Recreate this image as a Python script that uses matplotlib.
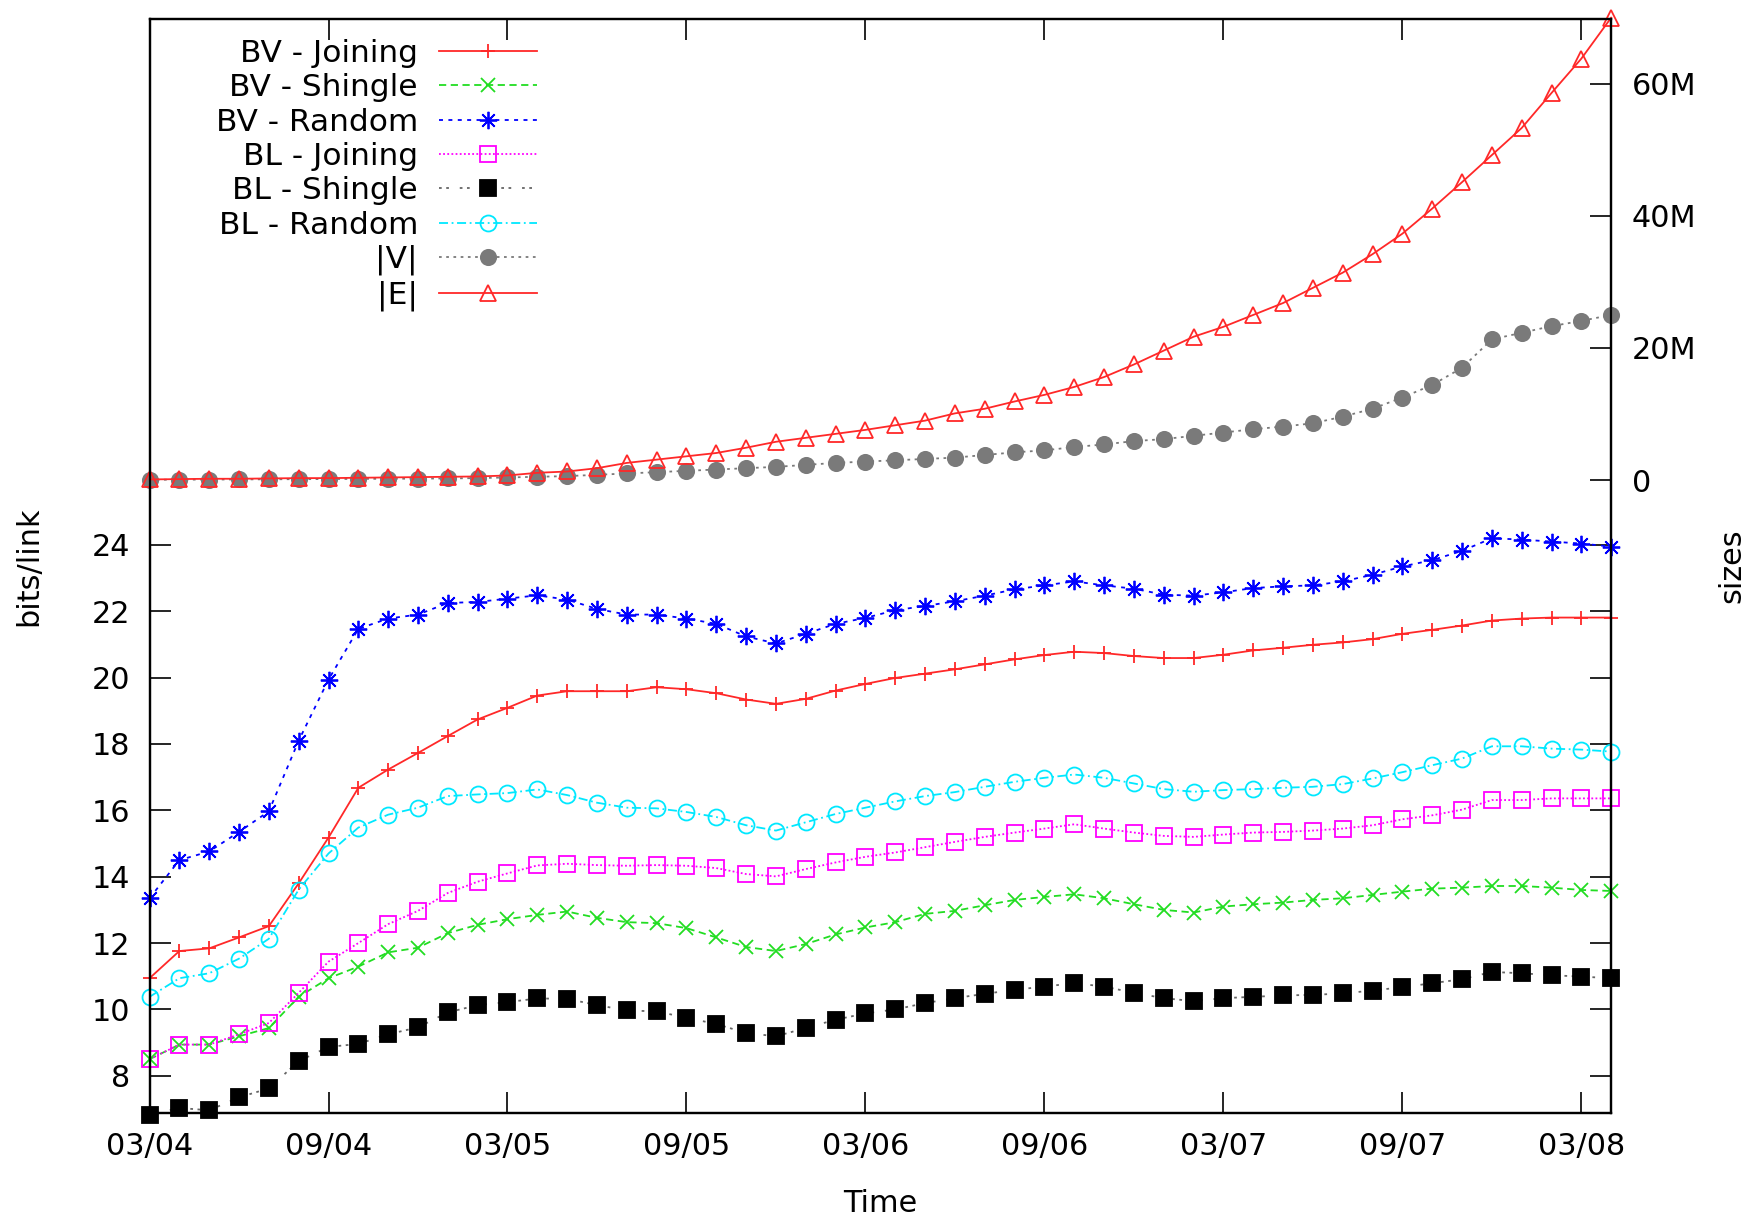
import matplotlib
matplotlib.use("Agg")
import matplotlib.pyplot as plt

plt.rcParams['font.family'] = ['DejaVu Sans']

# Monthly samples, 03/04 .. 04/08
months = list(range(50))
tick_months = [0, 6, 12, 18, 24, 30, 36, 42, 48]
tick_labels = ['03/04', '09/04', '03/05', '09/05', '03/06', '09/06', '03/07', '09/07', '03/08']

# bits per link
bv_joining = [10.94, 11.76, 11.84, 12.17, 12.51, 13.8, 15.18, 16.68, 17.23, 17.73, 18.24, 18.74, 19.09, 19.46,
              19.59, 19.59, 19.59, 19.71, 19.65, 19.53, 19.34, 19.21, 19.36, 19.61, 19.81, 19.99, 20.12, 20.25,
              20.4, 20.55, 20.68, 20.78, 20.74, 20.65, 20.59, 20.59, 20.69, 20.82, 20.9, 20.99, 21.06,
              21.16, 21.32, 21.44, 21.57, 21.72, 21.78, 21.81, 21.81, 21.81]
bv_shingle = [8.5, 8.94, 8.94, 9.19, 9.44, 10.38, 10.94, 11.29, 11.72, 11.86, 12.3, 12.55, 12.72, 12.85,
              12.95, 12.76, 12.63, 12.6, 12.45, 12.17, 11.88, 11.76, 11.97, 12.26, 12.47, 12.63, 12.88, 12.97,
              13.14, 13.3, 13.39, 13.47, 13.35, 13.17, 13.0, 12.92, 13.1, 13.17, 13.22, 13.3, 13.35,
              13.45, 13.55, 13.64, 13.67, 13.72, 13.72, 13.67, 13.6, 13.57]
bv_random = [13.35, 14.5, 14.76, 15.35, 15.97, 18.1, 19.94, 21.47, 21.78, 21.9, 22.25, 22.28, 22.38, 22.48,
             22.35, 22.07, 21.9, 21.9, 21.78, 21.62, 21.24, 21.03, 21.32, 21.62, 21.8, 22.03, 22.16, 22.3,
             22.47, 22.66, 22.78, 22.9, 22.78, 22.68, 22.5, 22.47, 22.57, 22.7, 22.75, 22.78, 22.9,
             23.1, 23.35, 23.54, 23.82, 24.2, 24.16, 24.1, 24.04, 23.95]
bl_joining = [8.5, 8.94, 8.94, 9.25, 9.59, 10.5, 11.44, 12.0, 12.57, 12.97, 13.51, 13.85, 14.1, 14.34,
              14.39, 14.35, 14.33, 14.35, 14.33, 14.26, 14.08, 14.01, 14.23, 14.43, 14.6, 14.73, 14.89, 15.05,
              15.2, 15.33, 15.45, 15.58, 15.45, 15.33, 15.23, 15.2, 15.27, 15.33, 15.35, 15.39, 15.45,
              15.55, 15.73, 15.85, 16.02, 16.31, 16.31, 16.36, 16.36, 16.36]
bl_shingle = [6.83, 7.03, 6.96, 7.35, 7.62, 8.44, 8.87, 8.96, 9.25, 9.46, 9.91, 10.13, 10.22, 10.33,
              10.32, 10.13, 9.97, 9.94, 9.75, 9.56, 9.29, 9.19, 9.44, 9.69, 9.88, 10.0, 10.19, 10.34,
              10.47, 10.59, 10.69, 10.79, 10.69, 10.5, 10.34, 10.25, 10.34, 10.38, 10.42, 10.44, 10.48,
              10.57, 10.67, 10.79, 10.91, 11.13, 11.09, 11.03, 10.99, 10.94]
bl_random = [10.38, 10.94, 11.09, 11.53, 12.13, 13.61, 14.7, 15.48, 15.87, 16.08, 16.43, 16.48, 16.52, 16.63,
             16.46, 16.23, 16.08, 16.06, 15.95, 15.8, 15.55, 15.39, 15.64, 15.89, 16.08, 16.27, 16.43, 16.55,
             16.71, 16.86, 16.98, 17.08, 16.98, 16.81, 16.64, 16.56, 16.61, 16.64, 16.68, 16.71, 16.79,
             16.96, 17.15, 17.36, 17.56, 17.93, 17.93, 17.86, 17.83, 17.77]

# graph sizes, in millions
v_size = [0.05, 0.06, 0.08, 0.1, 0.12, 0.14, 0.16, 0.18, 0.2, 0.22,
          0.25, 0.3, 0.4, 0.5, 0.6, 0.8, 1.0, 1.2, 1.4, 1.6,
          1.8, 2.0, 2.3, 2.6, 2.8, 3.0, 3.2, 3.4, 3.8, 4.2,
          4.5, 5.0, 5.4, 5.9, 6.2, 6.7, 7.2, 7.7, 8.1, 8.6,
          9.6, 10.8, 12.5, 14.4, 17.0, 21.3, 22.3, 23.3, 24.1, 25.0]
e_size = [0.1, 0.15, 0.2, 0.2, 0.25, 0.3, 0.3, 0.35, 0.4, 0.45,
          0.5, 0.55, 0.7, 1.1, 1.3, 1.8, 2.6, 3.1, 3.6, 4.1,
          4.9, 5.8, 6.4, 7.0, 7.6, 8.3, 9.0, 10.1, 10.8, 11.9,
          12.9, 14.1, 15.6, 17.5, 19.6, 21.7, 23.2, 25.0, 26.8, 29.1,
          31.4, 34.2, 37.3, 41.1, 45.1, 49.2, 53.3, 58.6, 63.8, 70.0]

left_ticks = [8, 10, 12, 14, 16, 18, 20, 22, 24]
right_ticks = [0, 20, 40, 60]
right_labels = ['0', '20M', '40M', '60M']

FS = 21.8
LEG_FS = 22.5
RED = '#ff2828'
GREEN = '#22dd22'
BLUE = '#0000ff'
MAGENTA = '#ff00ff'
CYAN = '#00e8ff'
GRAY = '#7a7a7a'

fig = plt.figure(figsize=(17.49, 12.17), dpi=100)
ax = fig.add_axes([0.0855, 0.0855, 0.8357, 0.8989])
ax2 = ax.twinx()

lw = 1.3
mew = 1.3
common = dict(clip_on=False, linewidth=lw, markeredgewidth=mew)

h1, = ax.plot(months, bv_joining, color=RED, marker='+', markersize=10, label='BV - Joining', **common)
h2, = ax.plot(months, bv_shingle, color=GREEN, marker='x', markersize=10, dashes=[4, 2.5],
              label='BV - Shingle', **common)
h3, = ax.plot(months, bv_random, color=BLUE, marker=(8, 2, 0), markersize=12.5, dashes=[2.2, 3],
              label='BV - Random', **common)
h4, = ax.plot(months, bl_joining, color=MAGENTA, marker='s', markersize=11, markerfacecolor='none',
              dashes=[1, 1.3], label='BL - Joining', **common)
h5, = ax.plot(months, bl_shingle, color='#666666', marker='s', markersize=11, markerfacecolor='black',
              markeredgecolor='black', dashes=[1.5, 2.5, 1.5, 6], label='BL - Shingle', **common)
h6, = ax.plot(months, bl_random, color=CYAN, marker='o', markersize=11.5, markerfacecolor='none',
              dashes=[5, 2, 1, 2], label='BL - Random', **common)
h7, = ax2.plot(months, v_size, color=GRAY, marker='o', markersize=11, markerfacecolor=GRAY,
               markeredgecolor=GRAY, dashes=[1.5, 2.5], label='|V|', **common)
h8, = ax2.plot(months, e_size, color=RED, marker='^', markersize=12, markerfacecolor='none',
               label='|E|', **common)

ax.set_xlim(0, 49)
ax.set_ylim(6.88, 39.85)
ax2.set_ylim(-95.8, 69.8)

ax.set_xticks(tick_months)
ax.set_xticklabels(tick_labels)
ax.set_yticks(left_ticks)
ax.set_yticklabels([str(t) for t in left_ticks])
ax2.set_yticks(right_ticks)
ax2.set_yticklabels(right_labels)

ax.tick_params(axis='x', direction='in', length=15, width=1.2, top=True, labelsize=FS, pad=14)
ax.tick_params(axis='y', direction='in', length=15, width=1.2, left=True, right=True,
               labelleft=True, labelright=False, labelsize=FS, pad=14)
ax2.tick_params(axis='y', direction='in', length=15, width=1.2, left=False, right=True,
                labelsize=FS, pad=15)

for a in (ax, ax2):
    for s in a.spines.values():
        s.set_linewidth(1.6)
        s.set_color('black')

fig.text(29 / 1749, 1 - 566 / 1217, 'bits/link', rotation=90, ha='center', va='center', fontsize=FS)
fig.text(1732 / 1749, 1 - 566 / 1217, 'sizes', rotation=90, ha='center', va='center', fontsize=FS)
fig.text(880 / 1749, 1 - 1203 / 1217, 'Time', ha='center', va='center', fontsize=FS)

handles = [h1, h2, h3, h4, h5, h6, h7, h8]
fig.legend(handles, [h.get_label() for h in handles], loc='upper right',
           bbox_to_anchor=(537 / 1749, 1 - 39 / 1217), frameon=False, markerfirst=False,
           fontsize=LEG_FS, handlelength=3.15, handletextpad=0.66, labelspacing=0.17,
           borderpad=0, borderaxespad=0, numpoints=1)

fig.savefig('out.png', dpi=100)
